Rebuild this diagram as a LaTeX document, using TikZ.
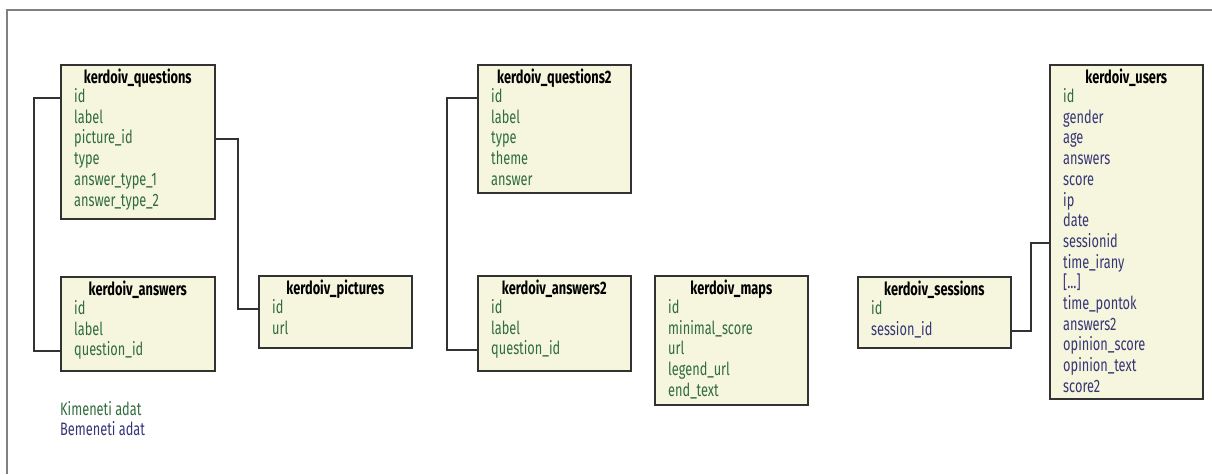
\documentclass[tikz,border=0pt]{standalone}
\usepackage{fontspec}
\setmainfont[FakeStretch=0.71]{Fira Sans}
\usetikzlibrary{calc}
\definecolor{boxfill}{RGB}{246,246,222}
\definecolor{boxline}{RGB}{50,50,50}
\definecolor{outcol}{RGB}{48,108,62}
\definecolor{incol}{RGB}{54,54,118}
\definecolor{framecol}{RGB}{128,128,128}
\tikzset{
  x=1pt, y=-1pt,
  tablebox/.style={draw=boxline, line width=1.6pt, fill=boxfill, inner sep=0pt, anchor=north west},
  titletext/.style={font=\fontsize{18}{18}\selectfont\bfseries, text=black, inner sep=0pt, text height=12.5pt, text depth=3.5pt},
  fieldtext/.style={font=\fontsize{18}{18}\selectfont, inner sep=0pt, anchor=west, text height=12.5pt, text depth=3.5pt},
  link/.style={draw=boxline, line width=2pt},
  frameline/.style={draw=framecol, line width=1.5pt},
}
% a table: name, left, top, width, height, title
\newcommand\dbtable[6]{%
  \node[tablebox, minimum width=#4pt, minimum height=#5pt] (#1) at (#2,#3) {};
  \node[titletext] (#1-title) at ($(#1.north)+(0,14.5)$) {#6};
}
% a field row: node name, table, row index, colour, text
\newcommand\fieldrow[5]{%
  \node[fieldtext, text=#4] (#1) at ($(#2.north west)+(14,34+20.7*#3-20.7)$) {#5};
}
\begin{document}
\begin{tikzpicture}
\useasboundingbox (0,0) rectangle (1212,474);
\draw[frameline] (7,474) -- (7,10) -- (1212,10);

% kerdoiv_questions
\dbtable{q}{60}{64}{154}{154}{kerdoiv\_questions}
\fieldrow{q-id}{q}{1}{outcol}{id}
\fieldrow{q-label}{q}{2}{outcol}{label}
\fieldrow{q-pic}{q}{3}{outcol}{picture\_id}
\fieldrow{q-type}{q}{4}{outcol}{type}
\fieldrow{q-at1}{q}{5}{outcol}{answer\_type\_1}
\fieldrow{q-at2}{q}{6}{outcol}{answer\_type\_2}

% kerdoiv_answers
\dbtable{a}{60}{276}{154}{94}{kerdoiv\_answers}
\fieldrow{a-id}{a}{1}{outcol}{id}
\fieldrow{a-label}{a}{2}{outcol}{label}
\fieldrow{a-qid}{a}{3}{outcol}{question\_id}

% kerdoiv_pictures
\dbtable{p}{258}{275}{153}{72}{kerdoiv\_pictures}
\fieldrow{p-id}{p}{1}{outcol}{id}
\fieldrow{p-url}{p}{2}{outcol}{url}

% kerdoiv_questions2
\dbtable{q2}{477}{64}{153}{128}{kerdoiv\_questions2}
\fieldrow{q2-id}{q2}{1}{outcol}{id}
\fieldrow{q2-label}{q2}{2}{outcol}{label}
\fieldrow{q2-type}{q2}{3}{outcol}{type}
\fieldrow{q2-theme}{q2}{4}{outcol}{theme}
\fieldrow{q2-answer}{q2}{5}{outcol}{answer}

% kerdoiv_answers2
\dbtable{a2}{477}{275}{153}{95}{kerdoiv\_answers2}
\fieldrow{a2-id}{a2}{1}{outcol}{id}
\fieldrow{a2-label}{a2}{2}{outcol}{label}
\fieldrow{a2-qid}{a2}{3}{outcol}{question\_id}

% kerdoiv_maps
\dbtable{m}{654}{275}{153}{129}{kerdoiv\_maps}
\fieldrow{m-id}{m}{1}{outcol}{id}
\fieldrow{m-min}{m}{2}{outcol}{minimal\_score}
\fieldrow{m-url}{m}{3}{outcol}{url}
\fieldrow{m-legend}{m}{4}{outcol}{legend\_url}
\fieldrow{m-end}{m}{5}{outcol}{end\_text}

% kerdoiv_sessions
\dbtable{s}{857}{276}{153}{71}{kerdoiv\_sessions}
\fieldrow{s-id}{s}{1}{outcol}{id}
\fieldrow{s-sid}{s}{2}{incol}{session\_id}

% kerdoiv_users
\dbtable{u}{1049}{64}{153}{334}{kerdoiv\_users}
\fieldrow{u-id}{u}{1}{outcol}{id}
\fieldrow{u-gender}{u}{2}{incol}{gender}
\fieldrow{u-age}{u}{3}{incol}{age}
\fieldrow{u-answers}{u}{4}{incol}{answers}
\fieldrow{u-score}{u}{5}{incol}{score}
\fieldrow{u-ip}{u}{6}{incol}{ip}
\fieldrow{u-date}{u}{7}{incol}{date}
\fieldrow{u-sid}{u}{8}{incol}{sessionid}
\fieldrow{u-tirany}{u}{9}{incol}{time\_irany}
\fieldrow{u-dots}{u}{10}{incol}{[...]}
\fieldrow{u-tpontok}{u}{11}{incol}{time\_pontok}
\fieldrow{u-answers2}{u}{12}{incol}{answers2}
\fieldrow{u-opscore}{u}{13}{incol}{opinion\_score}
\fieldrow{u-optext}{u}{14}{incol}{opinion\_text}
\fieldrow{u-score2}{u}{15}{incol}{score2}

% relations
\draw[link] (q.west |- q-id) -- ++(-26,0) |- (a.west |- a-qid);
\draw[link] (q.east |- q-pic) -- ++(22,0) |- (p.west |- p-id);
\draw[link] (q2.west |- q2-id) -- ++(-30,0) |- (a2.west |- a2-qid);
\draw[link] (s.east |- s-sid) -- ++(19,0) |- (u.west |- u-sid);

% legend
\node[fieldtext, text=outcol] (legout) at (60,411) {Kimeneti adat};
\node[fieldtext, text=incol] (legin) at (60,431) {Bemeneti adat};
\end{tikzpicture}
\end{document}
